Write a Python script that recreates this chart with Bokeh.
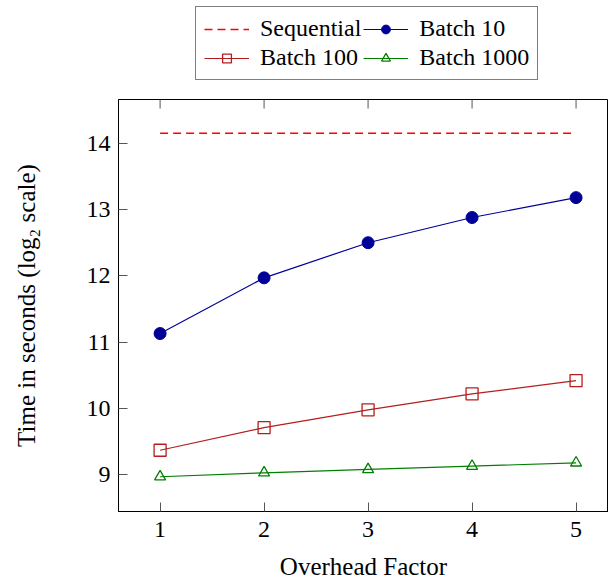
import math
from bokeh.plotting import figure
from bokeh.layouts import column
from bokeh.models import Range1d, FixedTicker, Legend, LegendItem
from bokeh.embed import file_html
from bokeh.resources import INLINE

overhead = [1, 2, 3, 4, 5]
sequential = [14.15, 14.15, 14.15, 14.15, 14.15]
batch10 = [11.13, 11.97, 12.50, 12.88, 13.18]
batch100 = [9.37, 9.71, 9.98, 10.22, 10.42]
batch1000 = [8.97, 9.03, 9.08, 9.13, 9.18]
x_ticks = [1, 2, 3, 4, 5]
y_ticks = [9, 10, 11, 12, 13, 14]

FONT = "Liberation Serif"
C_SEQ = "#ff0000"
C_B10 = "#000099"
C_B100 = "#b41e1e"
C_B1000 = "#007f00"


def draw_series(fig):
    seq = fig.line(overhead, sequential, line_color=C_SEQ, line_width=1.4, line_dash="8 5")
    b10l = fig.line(overhead, batch10, line_color=C_B10, line_width=1.2)
    b10m = fig.scatter(overhead, batch10, marker="circle", size=12, fill_color=C_B10, line_color=C_B10)
    b100l = fig.line(overhead, batch100, line_color=C_B100, line_width=1.2)
    b100m = fig.scatter(overhead, batch100, marker="square", size=12, fill_color=None,
                        line_color=C_B100, line_width=1.3)
    b1000l = fig.line(overhead, batch1000, line_color=C_B1000, line_width=1.2)
    b1000m = fig.scatter(overhead, batch1000, marker="triangle", size=11, fill_color=None,
                         line_color=C_B1000, line_width=1.3)
    return [("Sequential", [seq]), ("Batch 10", [b10l, b10m]),
            ("Batch 100", [b100l, b100m]), ("Batch 1000", [b1000l, b1000m])]


# ---- main plot ----
xr = Range1d(0.6, 5.312)
yr = Range1d(8.446, 14.66)
p = figure(width=608, height=483, output_backend="svg", toolbar_location=None,
           x_range=xr, y_range=yr,
           min_border_left=118, min_border_right=0, min_border_top=0, min_border_bottom=68)
p.grid.visible = False
p.outline_line_color = "black"
p.outline_line_width = 1

for ax in (p.xaxis[0], p.yaxis[0]):
    ax.major_tick_in = 9
    ax.major_tick_out = 0
    ax.minor_tick_line_color = None
    ax.major_tick_line_color = "#555555"
    ax.axis_line_color = "black"
    ax.major_label_text_font = FONT
    ax.major_label_text_font_size = "24px"
    ax.major_label_text_color = "black"
    ax.axis_label_text_font = FONT
    ax.axis_label_text_font_size = "25px"
    ax.axis_label_text_font_style = "normal"
    ax.axis_label_text_color = "black"

p.xaxis[0].ticker = FixedTicker(ticks=x_ticks)
p.yaxis[0].ticker = FixedTicker(ticks=y_ticks)
p.xaxis[0].axis_label = "Overhead Factor"
p.yaxis[0].axis_label = "Time in seconds (log\u2082 scale)"
p.xaxis[0].major_label_standoff = 10
p.xaxis[0].axis_label_standoff = 13
p.yaxis[0].major_label_standoff = 8
p.yaxis[0].axis_label_standoff = 44

# mirrored tick marks on the top edge (half of each dash is clipped by the frame)
p.scatter(x_ticks, [yr.end] * len(x_ticks), marker="dash", angle=math.pi / 2, size=18,
          line_color="#555555", line_width=1)

draw_series(p)

# ---- legend strip above the plot ----
lf = figure(width=608, height=99, output_backend="svg", toolbar_location=None,
            x_range=Range1d(0, 1), y_range=Range1d(0, 1),
            x_axis_location=None, y_axis_location=None,
            min_border_left=0, min_border_right=0, min_border_top=0, min_border_bottom=0)
lf.grid.visible = False
lf.outline_line_color = None
items = draw_series(lf)  # drawn outside the strip's ranges: only the legend shows

legend = Legend(items=[LegendItem(label=lab, renderers=rs) for lab, rs in items],
                location=(77, 19), ncols=2, orientation="horizontal",
                label_text_font=FONT, label_text_font_size="24px", label_text_color="black",
                glyph_width=45, glyph_height=22, label_standoff=11, spacing=2,
                padding=8, margin=0, border_line_color="black", border_line_width=1,
                background_fill_alpha=1)
lf.add_layout(legend, "center")

layout = column(lf, p, spacing=0)
open("out.html", "w").write(file_html(layout, INLINE))
